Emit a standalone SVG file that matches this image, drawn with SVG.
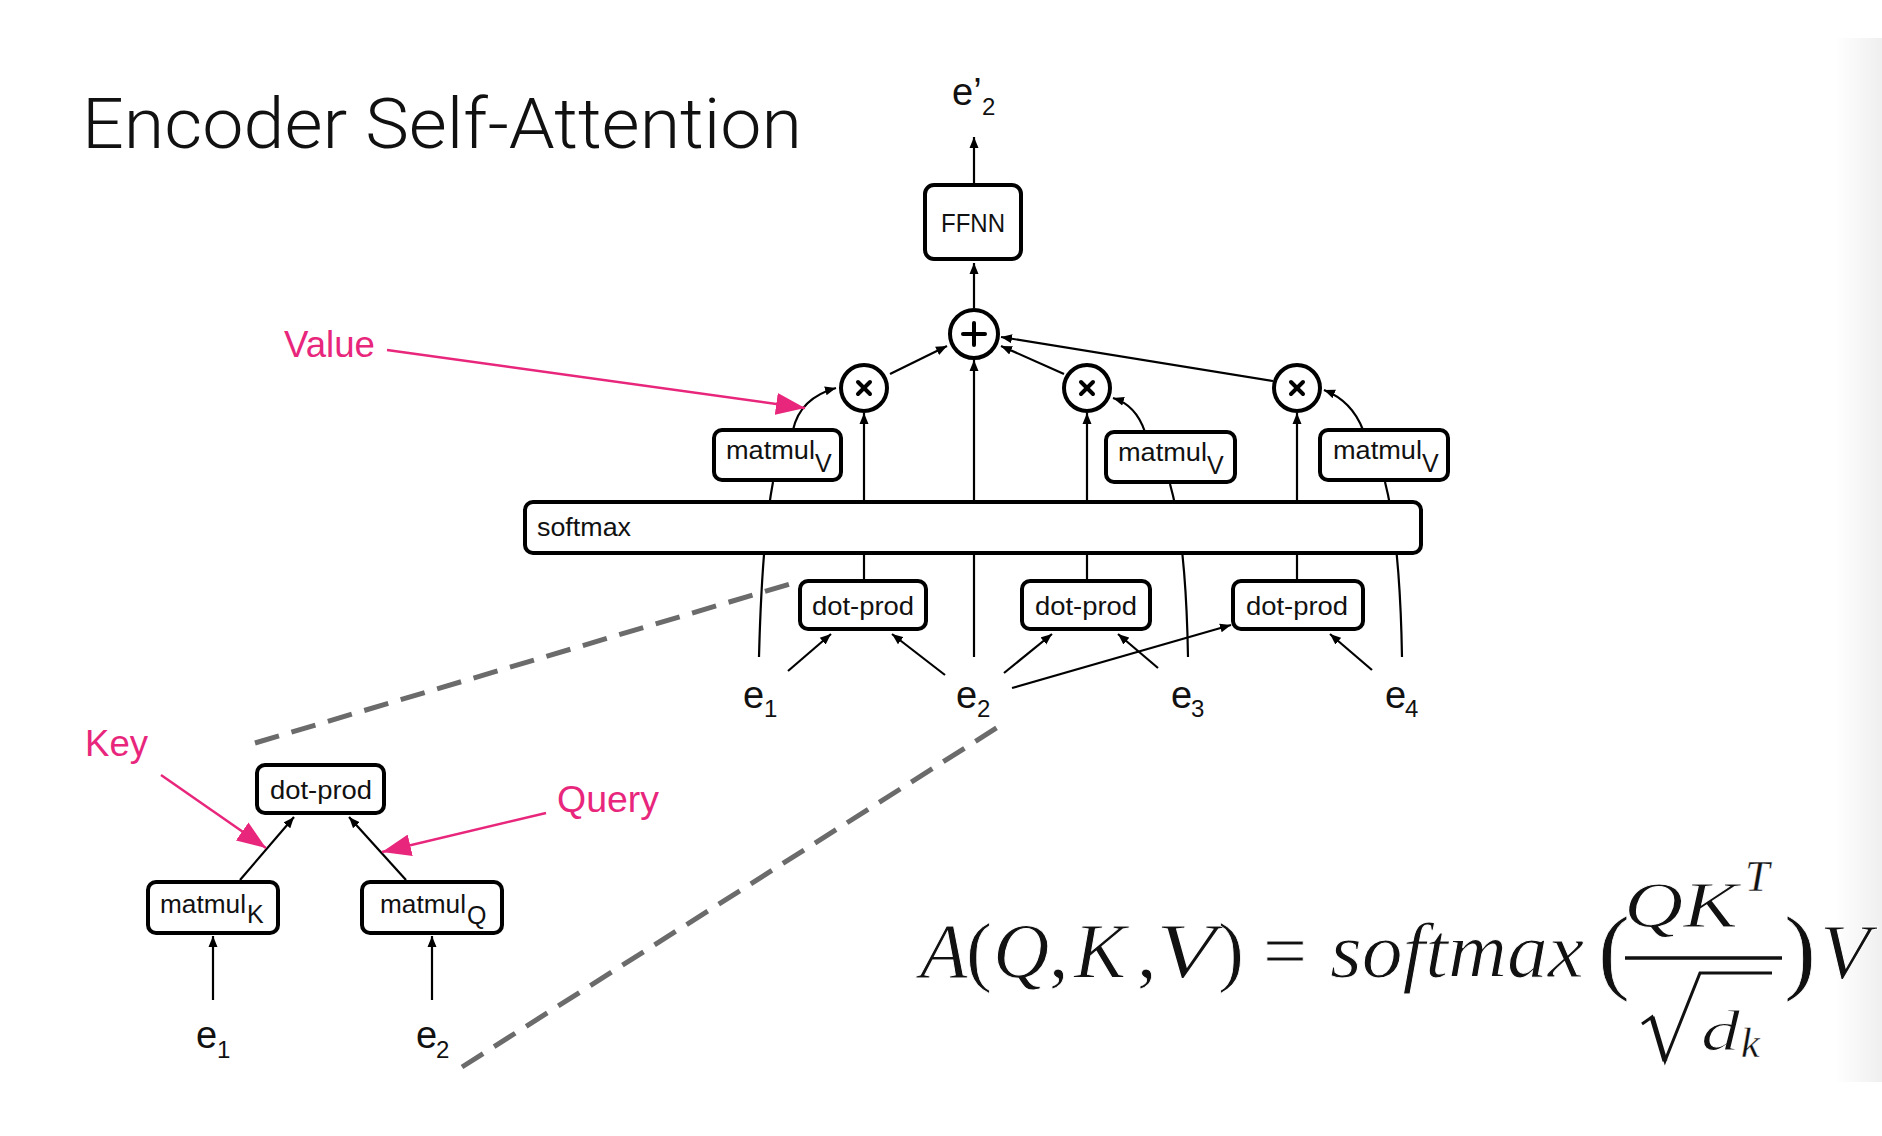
<svg xmlns="http://www.w3.org/2000/svg" width="1882" height="1136" viewBox="0 0 1882 1136">
<defs>
<marker id="ah" markerUnits="userSpaceOnUse" markerWidth="12" markerHeight="10" refX="11" refY="5" orient="auto"><path d="M0,0.5 L11,5 L0,9.5 z" fill="#000"/></marker>
<marker id="ahp" markerUnits="userSpaceOnUse" markerWidth="30" markerHeight="22" refX="29" refY="11" orient="auto"><path d="M0,0 L29,11 L0,22 z" fill="#e8267c"/></marker>
<linearGradient id="band" x1="0" y1="0" x2="1" y2="0"><stop offset="0" stop-color="#ffffff"/><stop offset="1" stop-color="#efefef"/></linearGradient>
</defs>
<style>
.box{fill:#fff;stroke:#000;stroke-width:4}
.circ{fill:#fff;stroke:#000;stroke-width:4}
.op{stroke:#000;stroke-width:4;stroke-linecap:round}
.c{fill:none;stroke:#000;stroke-width:2.2}
.ca{fill:none;stroke:#000;stroke-width:2.2;marker-end:url(#ah)}
.pk{fill:none;stroke:#e8267c;stroke-width:2.5;marker-end:url(#ahp)}
.dash{fill:none;stroke:#6b6b6b;stroke-width:5;stroke-dasharray:25 13}
.t{font-family:"Liberation Sans",Arial,sans-serif;font-size:25px;fill:#111}
.e{font-family:"Liberation Sans",Arial,sans-serif;font-size:38px;fill:#111}
.es{font-family:"Liberation Sans",Arial,sans-serif;font-size:24px;fill:#111}
.pl{font-family:"Liberation Sans",Arial,sans-serif;font-size:36px;fill:#e8267c}
.m{font-family:"Liberation Serif","Times New Roman",serif;font-style:italic;fill:#111;stroke:#fff;stroke-width:1}
.ms{font-family:"Liberation Serif","Times New Roman",serif;font-style:italic;fill:#111;stroke:#fff;stroke-width:0.4}
.mu{font-family:"Liberation Serif","Times New Roman",serif;fill:#111;stroke:#fff;stroke-width:0.8}
</style>
<rect width="1882" height="1136" fill="#fff"/>
<rect x="1835" y="38" width="47" height="1044" fill="url(#band)"/>

<text id="title" x="82" y="148" font-family="Roboto,'Liberation Sans',sans-serif" font-weight="300" font-size="71" fill="#111" textLength="720" lengthAdjust="spacingAndGlyphs">Encoder Self-Attention</text>

<g id="connectors">
<line class="ca" x1="974" y1="183" x2="974" y2="137"/>
<line class="ca" x1="974" y1="308" x2="974" y2="263"/>
<line class="ca" x1="890" y1="374" x2="947" y2="346"/>
<line class="ca" x1="1064" y1="374" x2="1001" y2="346"/>
<line class="ca" x1="1273" y1="381" x2="1001" y2="337"/>
<line class="ca" x1="974" y1="657" x2="974" y2="360"/>
<line class="ca" x1="864" y1="502" x2="864" y2="413"/>
<line class="c" x1="864" y1="581" x2="864" y2="553"/>
<line class="ca" x1="1087" y1="502" x2="1087" y2="413"/>
<line class="c" x1="1087" y1="581" x2="1087" y2="553"/>
<line class="ca" x1="1297" y1="502" x2="1297" y2="413"/>
<line class="c" x1="1297" y1="581" x2="1297" y2="553"/>
<path class="ca" d="M793,430 Q800,398 836,388"/>
<path class="ca" d="M1145,432 Q1136,405 1113,398"/>
<path class="ca" d="M1363,430 Q1352,401 1324,390"/>
<path class="c" d="M759,657 Q762,540 773,482"/>
<path class="c" d="M1188,657 Q1186,540 1170,484"/>
<path class="c" d="M1402,657 Q1400,540 1385,482"/>
<line class="ca" x1="788" y1="671" x2="831" y2="634"/>
<line class="ca" x1="945" y1="675" x2="892" y2="634"/>
<line class="ca" x1="1004" y1="673" x2="1052" y2="634"/>
<line class="ca" x1="1158" y1="668" x2="1118" y2="634"/>
<line class="ca" x1="1012" y1="688" x2="1231" y2="625"/>
<line class="ca" x1="1372" y1="670" x2="1330" y2="634"/>
<line class="ca" x1="213" y1="1000" x2="213" y2="936"/>
<line class="ca" x1="432" y1="1000" x2="432" y2="936"/>
<line class="ca" x1="240" y1="880" x2="294" y2="817"/>
<line class="ca" x1="406" y1="880" x2="349" y2="817"/>
<line class="pk" x1="387" y1="350" x2="805" y2="408"/>
<line class="pk" x1="161" y1="775" x2="266" y2="848"/>
<line class="pk" x1="546" y1="813" x2="382" y2="852"/>
<line class="dash" x1="255" y1="743" x2="800" y2="581"/>
<line class="dash" x1="462" y1="1067" x2="998" y2="727"/>
</g>

<g id="ffnn"><rect class="box" x="925" y="185" width="96" height="74" rx="9"/><text class="t" x="941" y="232" font-size="24" textLength="64" lengthAdjust="spacingAndGlyphs">FFNN</text></g>
<g id="plus"><circle class="circ" cx="974" cy="334" r="24"/><line class="op" x1="963" y1="334" x2="985" y2="334"/><line class="op" x1="974" y1="323" x2="974" y2="345"/></g>
<g id="times1"><circle class="circ" cx="864" cy="388" r="23"/><line class="op" x1="858" y1="382" x2="870" y2="394"/><line class="op" x1="870" y1="382" x2="858" y2="394"/></g>
<g id="times2"><circle class="circ" cx="1087" cy="388" r="23"/><line class="op" x1="1081" y1="382" x2="1093" y2="394"/><line class="op" x1="1093" y1="382" x2="1081" y2="394"/></g>
<g id="times3"><circle class="circ" cx="1297" cy="388" r="23"/><line class="op" x1="1291" y1="382" x2="1303" y2="394"/><line class="op" x1="1303" y1="382" x2="1291" y2="394"/></g>

<g id="matmulV1"><rect class="box" x="714" y="430" width="127" height="50" rx="8"/><text class="t" x="726" y="459" textLength="89" lengthAdjust="spacingAndGlyphs">matmul</text><text class="t" x="815" y="472" font-size="28">V</text></g>
<g id="matmulV2"><rect class="box" x="1106" y="432" width="129" height="50" rx="8"/><text class="t" x="1118" y="461" textLength="89" lengthAdjust="spacingAndGlyphs">matmul</text><text class="t" x="1207" y="474" font-size="28">V</text></g>
<g id="matmulV3"><rect class="box" x="1320" y="430" width="128" height="50" rx="8"/><text class="t" x="1333" y="459" textLength="89" lengthAdjust="spacingAndGlyphs">matmul</text><text class="t" x="1422" y="472" font-size="28">V</text></g>

<g id="softmax"><rect class="box" x="525" y="502" width="896" height="51" rx="8"/><text class="t" x="537" y="536" textLength="94" lengthAdjust="spacingAndGlyphs">softmax</text></g>

<g id="dotprod1"><rect class="box" x="800" y="581" width="126" height="48" rx="8"/><text class="t" x="812" y="615" textLength="102" lengthAdjust="spacingAndGlyphs">dot-prod</text></g>
<g id="dotprod2"><rect class="box" x="1022" y="581" width="128" height="48" rx="8"/><text class="t" x="1035" y="615" textLength="102" lengthAdjust="spacingAndGlyphs">dot-prod</text></g>
<g id="dotprod3"><rect class="box" x="1233" y="581" width="130" height="48" rx="8"/><text class="t" x="1246" y="615" textLength="102" lengthAdjust="spacingAndGlyphs">dot-prod</text></g>

<g id="e1"><text class="e" x="743" y="708">e</text><text class="es" x="764" y="717">1</text></g>
<g id="e2"><text class="e" x="956" y="708">e</text><text class="es" x="977" y="717">2</text></g>
<g id="e3"><text class="e" x="1171" y="708">e</text><text class="es" x="1191" y="717">3</text></g>
<g id="e4"><text class="e" x="1385" y="708">e</text><text class="es" x="1405" y="717">4</text></g>
<g id="eout"><text class="e" x="952" y="105" font-size="33">e’</text><text class="es" x="982" y="115" font-size="19">2</text></g>

<g id="dotprodSmall"><rect class="box" x="257" y="765" width="127" height="48" rx="8"/><text class="t" x="270" y="799" textLength="102" lengthAdjust="spacingAndGlyphs">dot-prod</text></g>
<g id="matmulK"><rect class="box" x="148" y="882" width="130" height="51" rx="8"/><text class="t" x="160" y="913" textLength="86" lengthAdjust="spacingAndGlyphs">matmul</text><text class="t" x="247" y="923" font-size="28">K</text></g>
<g id="matmulQ"><rect class="box" x="362" y="882" width="140" height="51" rx="8"/><text class="t" x="380" y="913" textLength="86" lengthAdjust="spacingAndGlyphs">matmul</text><text class="t" x="467" y="924" font-size="28">Q</text></g>
<g id="e1s"><text class="e" x="196" y="1048" font-size="36">e</text><text class="es" x="217" y="1058" font-size="22">1</text></g>
<g id="e2s"><text class="e" x="416" y="1048" font-size="36">e</text><text class="es" x="436" y="1058" font-size="22">2</text></g>

<g id="labels">
<text class="pl" x="284" y="357" textLength="91" lengthAdjust="spacingAndGlyphs">Value</text>
<text class="pl" x="85" y="756" textLength="63" lengthAdjust="spacingAndGlyphs">Key</text>
<text class="pl" x="557" y="812" textLength="102" lengthAdjust="spacingAndGlyphs">Query</text>
</g>

<g id="formula">
<text class="m" x="920" y="977" font-size="78">A</text>
<text class="mu" x="966" y="977" font-size="78">(</text>
<text class="m" x="993" y="977" font-size="78">Q</text>
<text class="mu" x="1049" y="977" font-size="78">,</text>
<text class="m" x="1074" y="977" font-size="78">K</text>
<text class="mu" x="1137" y="977" font-size="78">,</text>
<text class="m" x="1156" y="977" font-size="78" textLength="60" lengthAdjust="spacingAndGlyphs">V</text>
<text class="mu" x="1218" y="977" font-size="78">)</text>
<text class="mu" x="1263" y="977" font-size="78" textLength="44" lengthAdjust="spacingAndGlyphs">=</text>
<text class="m" x="1330" y="977" font-size="78" textLength="254" lengthAdjust="spacingAndGlyphs">softmax</text>
<text class="mu" x="1598" y="982" font-size="96">(</text>
<text class="m" x="1624" y="927" font-size="66" textLength="114" lengthAdjust="spacingAndGlyphs">QK</text>
<text class="ms" x="1745" y="891" font-size="44">T</text>
<line x1="1625" y1="958" x2="1782" y2="958" stroke="#111" stroke-width="3.5"/>
<path d="M1642,1024 L1652,1017 L1665,1061 L1700,973 L1772,973" fill="none" stroke="#111" stroke-width="3" stroke-linejoin="miter"/>
<line x1="1652" y1="1017" x2="1665" y2="1061" stroke="#111" stroke-width="5"/>
<text class="m" x="1701" y="1050" font-size="58" textLength="39" lengthAdjust="spacingAndGlyphs">d</text>
<text class="ms" x="1741" y="1057" font-size="42">k</text>
<text class="mu" x="1784" y="982" font-size="96">)</text>
<text class="m" x="1820" y="978" font-size="78" textLength="50" lengthAdjust="spacingAndGlyphs">V</text>
</g>
</svg>
